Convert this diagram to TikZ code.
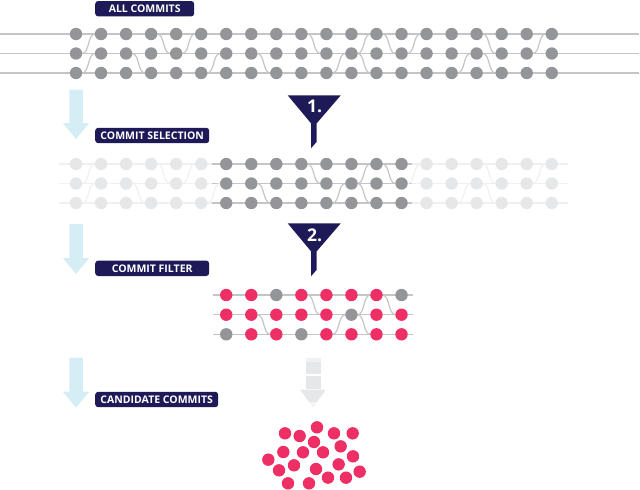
\documentclass[tikz,border=0pt]{standalone}
\usepackage{fontspec}
\setmainfont{Open Sans}[BoldFont={Open Sans Bold}]
\definecolor{navy}{HTML}{1E1A58}
\definecolor{dotgray}{HTML}{939598}
\definecolor{linegray}{HTML}{C4C5C7}
\definecolor{dotlight}{HTML}{E6E7E8}
\definecolor{linelight}{HTML}{F0F0F1}
\definecolor{hot}{HTML}{EE2F66}
\definecolor{sky}{HTML}{D5EDF5}
\definecolor{ash}{HTML}{E6E7E8}
\definecolor{ashtop}{HTML}{F1F1F2}
\tikzset{
  tag/.style={fill=navy,text=white,rounded corners=3pt,font=\bfseries\fontsize{10.5}{12}\selectfont,
    inner sep=0pt,anchor=west,minimum height=15.4pt,align=center},
  rail/.style={line width=1.5pt},
  strand/.style={line width=1.2pt},
  dotnode/.style={circle,inner sep=0pt,minimum size=12.4pt},
}
\newcommand{\Wave}[4]{% column, y from, y to, colour
  \pgfmathsetmacro{\xa}{76+25.04*#1}
  \draw[strand,color=#4] (\xa+6,#2) .. controls (\xa+13.5,#2) and (\xa+11.5,#3) .. (\xa+19,#3);
}
\begin{document}
\begin{tikzpicture}[x=1pt,y=-1pt]
\useasboundingbox (0,0) rectangle (640,490);

% ---- all commits
\foreach \y in {34,53.5,73} \draw[rail,linegray] (0,\y) -- (639,\y);
\foreach \c/\ra/\rb in {0/53.5/34,0/73/53.5,2/53.5/73,3/34/53.5,4/53.5/34,5/73/53.5,7/53.5/73,9/34/53.5,10/73/53.5,11/53.5/34,11/53.5/73,12/34/53.5,13/53.5/34,15/73/53.5,16/34/53.5,16/53.5/73,18/53.5/34}
  {\Wave{\c}{\ra}{\rb}{linegray}}
\foreach \y/\r in {34/a,53.5/b,73/c}
  \foreach \c in {0,...,19}
    \node[dotnode,fill=dotgray] (t\r\c) at ({76+25.04*\c},\y) {};

% ---- commit selection
\foreach \y in {164,183.5,203} {
  \draw[rail,linelight] (59,\y) -- (568,\y);
  \draw[rail,linegray] (212,\y) -- (412,\y);
}
\foreach \c/\ra/\rb in {0/183.5/164,0/203/183.5,2/183.5/203,3/164/183.5,4/183.5/164,5/203/183.5,13/183.5/164,15/203/183.5,16/164/183.5,16/183.5/203,18/183.5/164}
  {\Wave{\c}{\ra}{\rb}{linelight}}
\foreach \c/\ra/\rb in {7/183.5/203,9/164/183.5,10/203/183.5,11/183.5/164,11/183.5/203,12/164/183.5}
  {\Wave{\c}{\ra}{\rb}{linegray}}
\foreach \y/\r in {164/a,183.5/b,203/c} {
  \foreach \c in {0,...,5,14,15,16,17,18,19}
    \node[dotnode,fill=dotlight] (s\r\c) at ({76+25.04*\c},\y) {};
  \foreach \c in {6,...,13}
    \node[dotnode,fill=dotgray] (s\r\c) at ({76+25.04*\c},\y) {};
}

% ---- commit filter
\foreach \y in {295,314.7,334.3} \draw[rail,linegray] (213,\y) -- (413,\y);
\foreach \c/\ra/\rb in {7/314.7/334.3,9/295/314.7,10/334.3/314.7,11/314.7/295,11/314.7/334.3,12/295/314.7}
  {\Wave{\c}{\ra}{\rb}{linegray}}
\foreach \c/\k in {6/hot,7/hot,8/dotgray,9/hot,10/hot,11/hot,12/hot,13/dotgray}
  \node[dotnode,fill=\k] (fa\c) at ({76+25.04*\c},295) {};
\foreach \c/\k in {6/hot,7/hot,8/hot,9/hot,10/hot,11/dotgray,12/hot,13/hot}
  \node[dotnode,fill=\k] (fb\c) at ({76+25.04*\c},314.7) {};
\foreach \c/\k in {6/dotgray,7/hot,8/hot,9/dotgray,10/hot,11/hot,12/hot,13/hot}
  \node[dotnode,fill=\k] (fc\c) at ({76+25.04*\c},334.3) {};

% ---- candidates
\foreach \i/\p/\q in {1/135/160,2/179/168,3/231/142,4/282/160,5/338/160,6/222/186,7/302/199,8/130/216,9/189/217,10/249/217,11/339/229,12/85/239,13/162/256,14/296/253,15/117/271,16/228/267,17/359/275,18/264/293,19/318/293,20/144/310,21/207/310}
  \node[dotnode,fill=hot] (k\i) at ({240+\p/3},{380+\q/3}) {};

% ---- blue arrows
\foreach \t/\h/\e in {89.5/123/139,224/258/274,357.5/391.7/407.5}
  \fill[sky] (69.3,\t) -- (82.8,\t) -- (82.8,\h) -- (89.3,\h) -- (76,\e) -- (62.8,\h) -- (69.3,\h) -- cycle;

% ---- funnels
\foreach \t/\n in {95.3/1,223.3/2} {
  \fill[navy] (287.7,\t) -- (340.8,\t) -- (316.7,{\t+28}) -- (316.7,{\t+46.5}) -- (311,{\t+53}) -- (311,{\t+28}) -- cycle;
  \node[text=white,font=\bfseries\fontsize{17.5}{18}\selectfont,inner sep=0pt] (fn\n) at (314.5,{\t+11.5}) {\n.};
}

% ---- grey fading arrow
\fill[ash] (305.7,362) rectangle (320.7,374);
\fill[ashtop] (305.7,358) rectangle (320.7,362);
\fill[ash] (305.7,376) rectangle (320.7,389.3);
\fill[ash] (300,389.6) -- (325.9,389.6) -- (316.4,402.5) -- (309.5,402.5) -- cycle;
\fill[ashtop] (310.2,403.5) -- (315.7,403.5) -- (313,407.5) -- cycle;

% ---- labels
\node[tag,minimum width=99pt] (l1) at (95,8.7) {ALL COMMITS};
\node[tag,minimum width=114pt] (l2) at (95,135.5) {COMMIT SELECTION};
\node[tag,minimum width=114pt] (l3) at (95,268.3) {COMMIT FILTER};
\node[tag,minimum width=123pt] (l4) at (95,399.5) {CANDIDATE COMMITS};
\end{tikzpicture}
\end{document}
